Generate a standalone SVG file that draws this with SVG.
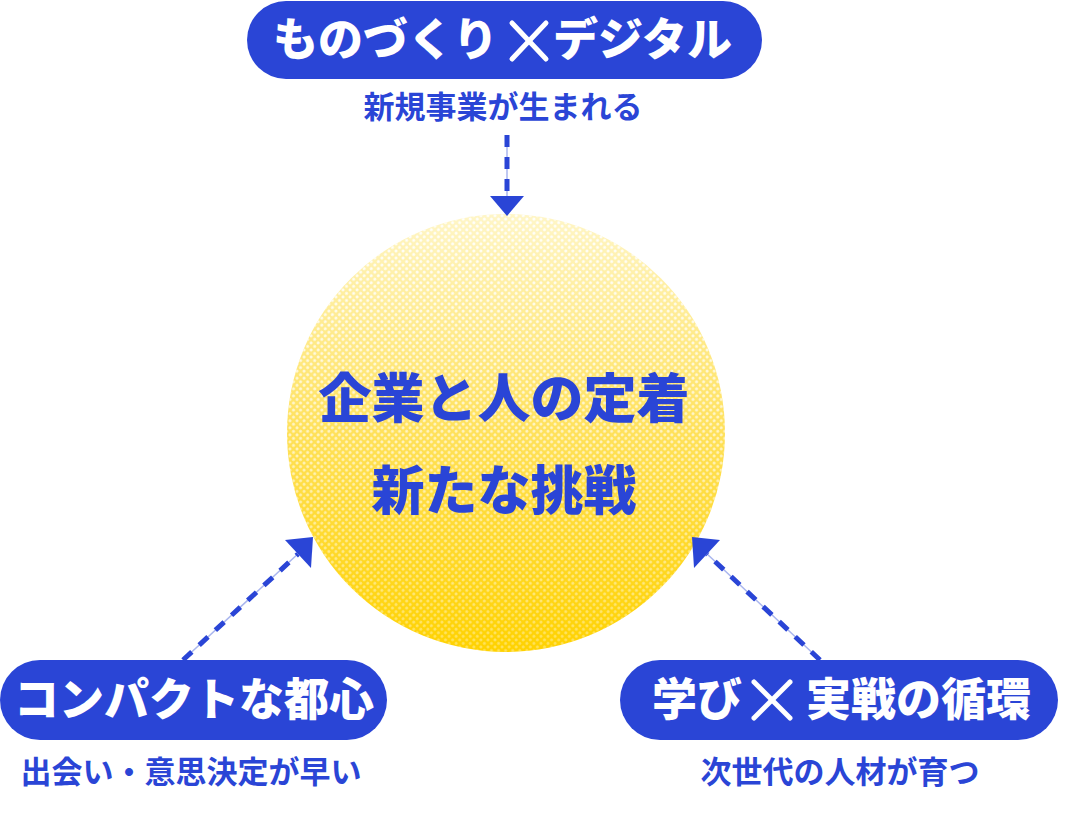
<svg xmlns="http://www.w3.org/2000/svg" width="1070" height="816" viewBox="0 0 1070 816">
<style>
.pill{fill:#2a45d6}
.pt{font-family:"Noto Sans CJK JP","Noto Sans",sans-serif;font-weight:900;fill:#fff;font-size:45px}
.sub{font-family:"Noto Sans CJK JP","Noto Sans",sans-serif;font-weight:700;fill:#2a45d6;font-size:31px;text-anchor:middle}
.ct{font-family:"Noto Sans CJK JP","Noto Sans",sans-serif;font-weight:900;fill:#2a45d6;font-size:53px;text-anchor:middle}
.ln{stroke:#aab6ee;stroke-width:1.5}
.ds{stroke:#2a45d6;stroke-width:5;stroke-dasharray:12 10}
.ah{fill:#2a45d6}
.x{stroke:#fff;stroke-width:5;stroke-linecap:round}
</style>
<defs>
<linearGradient id="g" x1="0" y1="0" x2="0" y2="1">
<stop offset="0" stop-color="#fff6c8"/>
<stop offset="0.5" stop-color="#ffe15a"/>
<stop offset="1" stop-color="#ffd200"/>
</linearGradient>
<pattern id="dots" width="5" height="5" patternUnits="userSpaceOnUse" patternTransform="rotate(45)">
<circle cx="2.5" cy="2.5" r="1.4" fill="#fff"/>
</pattern>
<linearGradient id="mg" x1="0" y1="0" x2="0" y2="1">
<stop offset="0" stop-color="#fff"/>
<stop offset="1" stop-color="#fff" stop-opacity="0.35"/>
</linearGradient>
<mask id="m"><rect x="280" y="210" width="460" height="450" fill="url(#mg)"/></mask>
</defs>
<g id="center">
<circle cx="506" cy="433" r="219" fill="url(#g)"/>
<circle cx="506" cy="433" r="219" fill="url(#dots)" mask="url(#m)"/>
<text class="ct" x="504" y="418">企業と人の定着</text>
<text class="ct" x="504" y="510">新たな挑戦</text>
</g>
<g id="connectors">
<line class="ln" x1="507" y1="135" x2="507" y2="200"/>
<line class="ds" x1="507" y1="135" x2="507" y2="196"/>
<polygon class="ah" points="490,196 524,196 507,216"/>
<line class="ln" x1="183" y1="660" x2="300" y2="552"/>
<line class="ds" x1="183" y1="660" x2="298" y2="554"/>
<polygon class="ah" points="285,540 313,537 311,568"/>
<line class="ln" x1="820" y1="660" x2="705" y2="552"/>
<line class="ds" x1="820" y1="660" x2="707" y2="554"/>
<polygon class="ah" points="720,540 692,537 694,568"/>
</g>
<g id="top">
<rect class="pill" x="247" y="1" width="515" height="78" rx="39"/>
<text class="pt" x="273" y="56">ものづくり</text>
<line class="x" x1="512" y1="23" x2="546" y2="59"/>
<line class="x" x1="546" y1="23" x2="512" y2="59"/>
<text class="pt" x="553" y="56">デジタル</text>
<text class="sub" x="503" y="118">新規事業が生まれる</text>
</g>
<g id="left">
<rect class="pill" x="0" y="660" width="387" height="80" rx="40"/>
<text class="pt" x="14" y="716">コンパクトな都心</text>
<text class="sub" x="191" y="783">出会い・意思決定が早い</text>
</g>
<g id="right">
<rect class="pill" x="620" y="660" width="438" height="80" rx="40"/>
<text class="pt" x="652" y="716">学び</text>
<line class="x" x1="754" y1="682" x2="790" y2="718"/>
<line class="x" x1="790" y1="682" x2="754" y2="718"/>
<text class="pt" x="806" y="716">実戦の循環</text>
<text class="sub" x="840" y="783">次世代の人材が育つ</text>
</g>
</svg>
